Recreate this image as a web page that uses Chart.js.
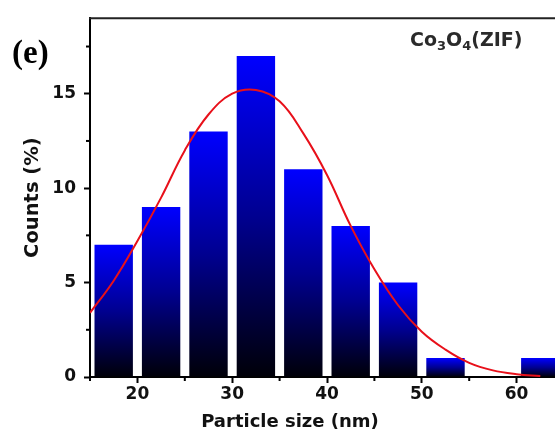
<!DOCTYPE html>
<html>
<head>
<meta charset="utf-8">
<script src="https://cdn.jsdelivr.net/npm/chart.js@4.4.1/dist/chart.umd.min.js"></script>
<style>
  html, body { margin: 0; padding: 0; background: #fff; overflow: hidden; }
  #wrap { width: 564px; height: 437px; }
</style>
</head>
<body>
<div id="wrap"><canvas id="myChart" width="564" height="437"></canvas></div>
<script>
// histogram bins (nm) and counts (%)
const binCenters = [17.5, 22.5, 27.5, 32.5, 37.5, 42.5, 47.5, 52.5, 57.5, 62.5];
const counts = [7, 9, 13, 17, 11, 8, 5, 1, 0, 1];

// fitted distribution curve
const fitX = [15, 17.5, 20, 22.5, 25, 27.5, 30, 32.5, 35, 37.5, 40, 42.5, 45, 47.5, 50, 52.5, 55, 57.5, 60, 62.5];
const fitY = [3.4, 5.1, 7.2, 9.5, 12.0, 13.9, 15.0, 15.2, 14.6, 12.9, 10.7, 8.0, 5.7, 3.8, 2.4, 1.45, 0.75, 0.35, 0.15, 0.05];

const xTicks = [20, 30, 40, 50, 60];
const xMinorTicks = [15, 25, 35, 45, 55, 65];
const yTicks = [0, 5, 10, 15];
const yMinorTicks = [2.5, 7.5, 12.5, 17.5];

Chart.defaults.font.family = "'DejaVu Sans', sans-serif";
Chart.defaults.font.weight = "bold";
Chart.defaults.color = "#111";

function barGradient(ctx) {
  const chart = ctx.chart;
  if (!chart.chartArea || ctx.type !== "data" || !chart.scales.y) return "#0000ff";
  const y = chart.scales.y;
  const top = y.getPixelForValue(ctx.raw.y);
  const bottom = y.getPixelForValue(0);
  if (bottom - top < 1) return "#0000ff";
  const g = chart.ctx.createLinearGradient(0, top, 0, bottom);
  g.addColorStop(0, "#0000ff");
  g.addColorStop(0.5, "#000090");
  g.addColorStop(1, "#000008");
  return g;
}

const decorations = {
  id: "decorations",
  afterDraw(chart) {
    const { ctx, chartArea } = chart;
    const xs = chart.scales.x;
    const ys = chart.scales.y;
    ctx.save();

    // top frame line
    ctx.strokeStyle = "#222";
    ctx.lineWidth = 2;
    ctx.beginPath();
    ctx.moveTo(chartArea.left - 1, chartArea.top);
    ctx.lineTo(chartArea.right, chartArea.top);
    ctx.stroke();

    // minor ticks
    ctx.strokeStyle = "#000";
    ctx.lineWidth = 2;
    xMinorTicks.forEach((v) => {
      const px = xs.getPixelForValue(v);
      ctx.beginPath();
      ctx.moveTo(px, chartArea.bottom);
      ctx.lineTo(px, chartArea.bottom + 4);
      ctx.stroke();
    });
    yMinorTicks.forEach((v) => {
      const py = ys.getPixelForValue(v);
      ctx.beginPath();
      ctx.moveTo(chartArea.left - 4, py);
      ctx.lineTo(chartArea.left, py);
      ctx.stroke();
    });

    // x axis title
    ctx.fillStyle = "#111";
    ctx.font = "bold 18px 'DejaVu Sans'";
    ctx.textAlign = "center";
    ctx.textBaseline = "middle";
    ctx.fillText("Particle size (nm)", 290, 422);

    // panel letter
    ctx.font = "bold 33px 'Liberation Serif'";
    ctx.textAlign = "left";
    ctx.textBaseline = "alphabetic";
    ctx.fillStyle = "#000";
    ctx.fillText("(e)", 12, 63);

    // sample label with subscripts
    const parts = [
      ["Co", 19, 0],
      ["3", 13, 4],
      ["O", 19, 0],
      ["4", 13, 4],
      ["(ZIF)", 19, 0],
    ];
    let x = 410;
    ctx.fillStyle = "#2a2a2a";
    parts.forEach(([t, size, dy]) => {
      ctx.font = "bold " + size + "px 'DejaVu Sans'";
      ctx.fillText(t, x, 46 + dy);
      x += ctx.measureText(t).width;
    });

    ctx.restore();
  },
};

const chart = new Chart("myChart", {
  data: {
    datasets: [
      {
        type: "line",
        data: fitX.map((x, i) => ({ x, y: fitY[i] })),
        borderColor: "#e8101a",
        borderWidth: 2,
        pointRadius: 0,
        tension: 0.4,
        fill: false,
        order: 0,
      },
      {
        type: "bar",
        data: binCenters.map((x, i) => ({ x, y: counts[i] })),
        backgroundColor: barGradient,
        borderWidth: 0,
        barPercentage: 0.81,
        categoryPercentage: 1,
        order: 1,
      },
    ],
  },
  plugins: [decorations],
  options: {
    responsive: false,
    animation: false,
    layout: {
      padding: { top: 15, left: 0, right: 0, bottom: 0 },
    },
    plugins: {
      legend: { display: false },
      tooltip: { enabled: false },
    },
    scales: {
      x: {
        type: "linear",
        min: 15,
        max: 65,
        offset: false,
        afterBuildTicks: (s) => {
          s.ticks = xTicks.map((v) => ({ value: v }));
        },
        afterFit: (s) => {
          s.height = 60;
        },
        ticks: {
          font: { size: 17, weight: "bold" },
          color: "#111",
          padding: 1,
          maxRotation: 0,
        },
        grid: {
          offset: false,
          drawOnChartArea: false,
          drawTicks: true,
          tickLength: 6,
          tickWidth: 2,
          tickColor: "#000",
        },
        border: { display: true, color: "#000", width: 2 },
      },
      y: {
        min: 0,
        max: 19,
        afterBuildTicks: (s) => {
          s.ticks = yTicks.map((v) => ({ value: v }));
        },
        afterFit: (s) => {
          s.width = 90;
        },
        ticks: {
          font: { size: 17, weight: "bold" },
          color: "#111",
          padding: 8,
        },
        grid: {
          drawOnChartArea: false,
          drawTicks: true,
          tickLength: 6,
          tickWidth: 2,
          tickColor: "#000",
        },
        border: { display: true, color: "#000", width: 2 },
        title: {
          display: true,
          text: "Counts (%)",
          font: { size: 19.5, weight: "bold" },
          color: "#111",
          padding: { top: 21, bottom: 0 },
        },
      },
    },
  },
});
</script>
</body>
</html>
